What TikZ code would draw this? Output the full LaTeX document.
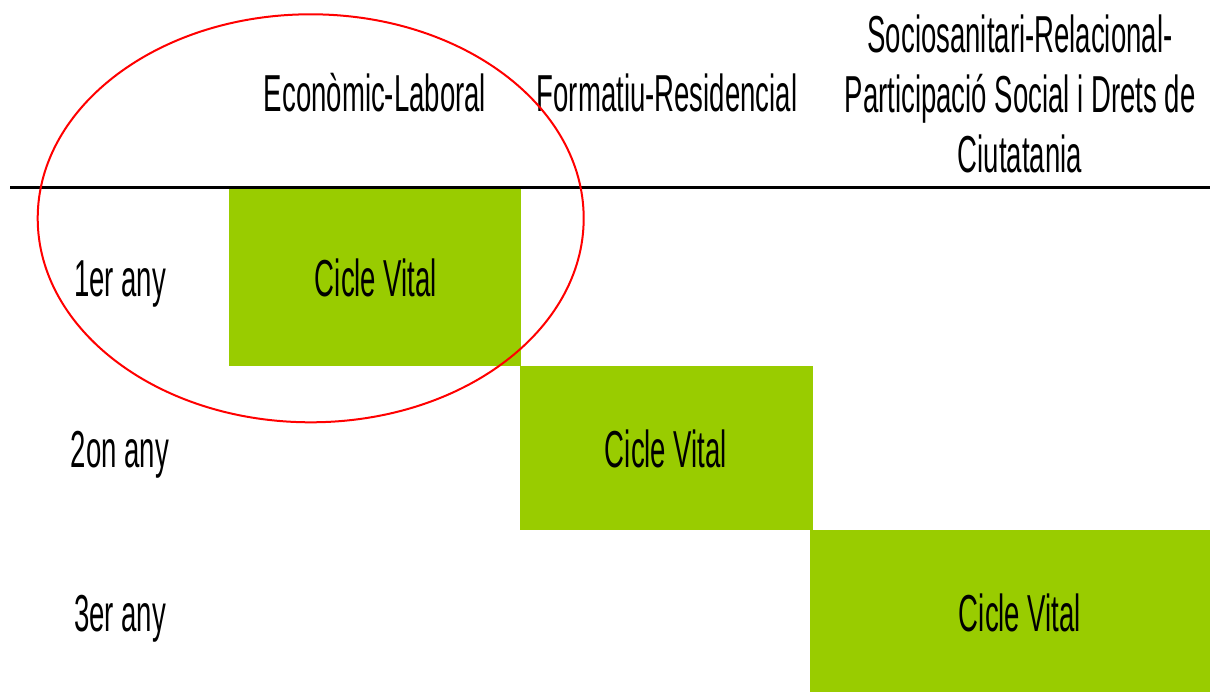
\documentclass[tikz,border=0pt]{standalone}
\usepackage{fontspec}
\usetikzlibrary{shapes.geometric}
\newfontfamily\narrowfont[FakeStretch=0.53]{Liberation Sans}
\definecolor{cellgreen}{RGB}{153,204,0}
\definecolor{ovalred}{RGB}{255,0,0}
\tikzset{
  txt/.style={font=\narrowfont\fontsize{52}{60}\selectfont, inner sep=0pt, anchor=base, text=black},
  cell/.style={fill=cellgreen, draw=none, inner sep=0pt},
  rule/.style={line width=3pt, draw=black},
  oval/.style={draw=ovalred, line width=2pt}
}
\begin{document}
\begin{tikzpicture}[x=1pt,y=-1pt]
\useasboundingbox (0,0) rectangle (1210,692);
% green cells
\node[cell, minimum width=292pt, minimum height=177pt] (b1) at (375,278) {};
\node[cell, minimum width=293pt, minimum height=163pt] (b2) at (666.5,448) {};
\node[cell, minimum width=400pt, minimum height=162pt] (b3) at (1010,611) {};
% header rule
\coordinate (r1) at (10,188);
\coordinate (r2) at (1210,188);
\draw[rule] (r1) -- (r2);
% headers
\node[txt] (h1) at (375,112) {Econòmic-Laboral};
\node[txt] (h2) at (667,112) {Formatiu-Residencial};
\node[txt] (h3) at (1020,53) {\begin{tabular}[t]{@{}c@{}}Sociosanitari-Relacional-\\Participació Social i Drets de\\Ciutatania\end{tabular}};
% row labels
\node[txt] (y1) at (120,297) {1er any};
\node[txt] (y2) at (120,467) {2on any};
\node[txt] (y3) at (120,631) {3er any};
% cell texts
\node[txt] (c1) at (376,297) {Cicle Vital};
\node[txt] (c2) at (666,467) {Cicle Vital};
\node[txt] (c3) at (1020,631) {Cicle Vital};
% red oval
\node[oval, ellipse, minimum width=546pt, minimum height=408pt, inner sep=0pt] (ov) at (310.7,218.3) {};
\end{tikzpicture}
\end{document}
